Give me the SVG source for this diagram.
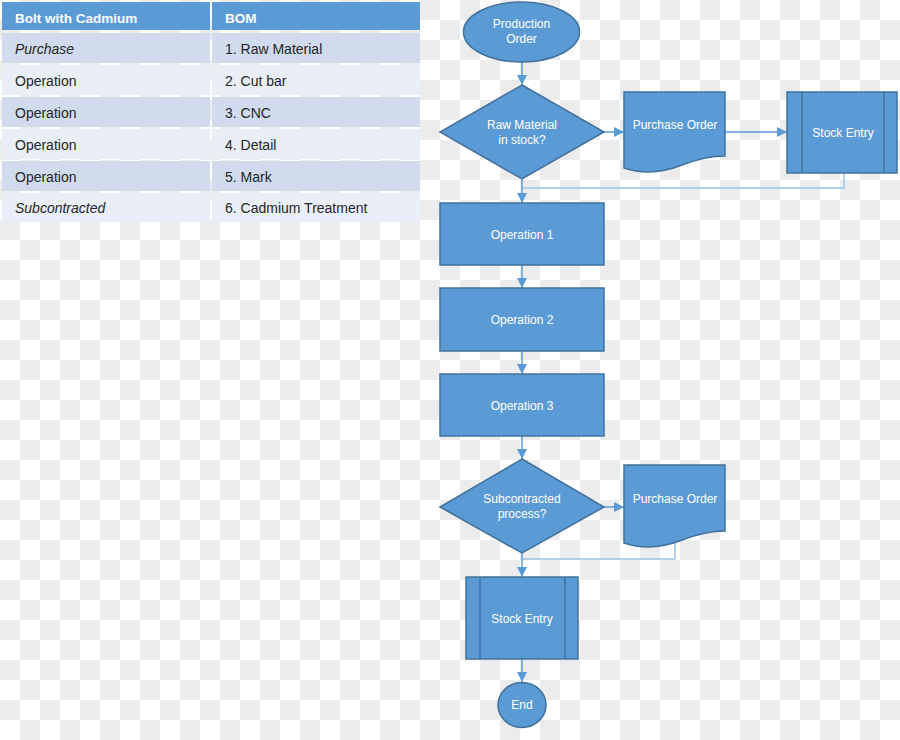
<svg xmlns="http://www.w3.org/2000/svg" width="900" height="740" viewBox="0 0 900 740">
<defs>
<pattern id="checker" width="40" height="40" patternUnits="userSpaceOnUse">
<rect width="40" height="40" fill="#ffffff"/>
<rect x="20" y="0" width="20" height="20" fill="#ececec"/>
<rect x="0" y="20" width="20" height="20" fill="#ececec"/>
</pattern>
<marker id="arrow" markerWidth="10" markerHeight="10" refX="10" refY="5" orient="auto" markerUnits="userSpaceOnUse">
<path d="M0,0 L10,5 L0,10 Z" fill="#5b9bd5"/>
</marker>
<style>
.shape{fill:#5b9bd5;stroke:#41719c;stroke-width:1.5}
.inner{stroke:#41719c;stroke-width:1.5;fill:none}
.lbl{font-family:"Liberation Sans",Arial,sans-serif;font-size:12px;fill:#ffffff;text-anchor:middle}
.conn{stroke:#5b9bd5;stroke-width:1.5;fill:none}
.ret{stroke:#9dc3e6;stroke-width:1.5;fill:none}
.th{fill:#5b9bd5}
.r1{fill:#d0dbee}
.r2{fill:#e9eef7}
.tt{font-family:"Liberation Sans",Arial,sans-serif;font-size:14px;fill:#262626}
.th-t{font-family:"Liberation Sans",Arial,sans-serif;font-size:13.5px;font-weight:bold;fill:#ffffff}
.it{font-style:italic}
</style>
</defs>
<rect width="900" height="740" fill="url(#checker)"/>

<g id="table">
<rect class="th" x="2" y="2" width="208" height="28"/>
<rect class="th" x="212" y="2" width="208" height="28"/>
<text class="th-t" x="15" y="23">Bolt with Cadmium</text>
<text class="th-t" x="225" y="23">BOM</text>
<rect class="r1" x="2" y="33" width="208" height="30"/>
<rect class="r1" x="212" y="33" width="208" height="30"/>
<text class="tt it" x="15" y="54">Purchase</text>
<text class="tt" x="225" y="54">1. Raw Material</text>
<rect class="r2" x="2" y="65" width="208" height="30"/>
<rect class="r2" x="212" y="65" width="208" height="30"/>
<text class="tt" x="15" y="86">Operation</text>
<text class="tt" x="225" y="86">2. Cut bar</text>
<rect class="r1" x="2" y="97" width="208" height="30"/>
<rect class="r1" x="212" y="97" width="208" height="30"/>
<text class="tt" x="15" y="118">Operation</text>
<text class="tt" x="225" y="118">3. CNC</text>
<rect class="r2" x="2" y="129" width="208" height="30"/>
<rect class="r2" x="212" y="129" width="208" height="30"/>
<text class="tt" x="15" y="150">Operation</text>
<text class="tt" x="225" y="150">4. Detail</text>
<rect class="r1" x="2" y="161" width="208" height="30"/>
<rect class="r1" x="212" y="161" width="208" height="30"/>
<text class="tt" x="15" y="182">Operation</text>
<text class="tt" x="225" y="182">5. Mark</text>
<rect class="r2" x="2" y="193" width="208" height="29"/>
<rect class="r2" x="212" y="193" width="208" height="29"/>
<text class="tt it" x="15" y="213">Subcontracted</text>
<text class="tt" x="225" y="213">6. Cadmium Treatment</text>
</g>

<g id="connectors">
<line class="conn" x1="522" y1="62" x2="522" y2="85" marker-end="url(#arrow)"/>
<line class="conn" x1="604" y1="132" x2="624" y2="132" marker-end="url(#arrow)"/>
<line class="conn" x1="725" y1="132" x2="787" y2="132" marker-end="url(#arrow)"/>
<polyline class="ret" points="844,173 844,188 522,188"/>
<line class="conn" x1="522" y1="179" x2="522" y2="203" marker-end="url(#arrow)"/>
<line class="conn" x1="522" y1="265" x2="522" y2="288" marker-end="url(#arrow)"/>
<line class="conn" x1="522" y1="351" x2="522" y2="374" marker-end="url(#arrow)"/>
<line class="conn" x1="522" y1="436" x2="522" y2="459" marker-end="url(#arrow)"/>
<line class="conn" x1="604" y1="507" x2="624" y2="507" marker-end="url(#arrow)"/>
<polyline class="ret" points="675,543 675,559 522,559"/>
<line class="conn" x1="522" y1="553" x2="522" y2="577" marker-end="url(#arrow)"/>
<line class="conn" x1="522" y1="659" x2="522" y2="682" marker-end="url(#arrow)"/>
</g>

<g id="production-order">
<ellipse class="shape" cx="521.5" cy="32" rx="58" ry="30"/>
<text class="lbl" x="521.5" y="28">Production</text>
<text class="lbl" x="521.5" y="43">Order</text>
</g>

<g id="raw-material-decision">
<polygon class="shape" points="522,85 604,132 522,179 440,132"/>
<text class="lbl" x="522" y="129">Raw Material</text>
<text class="lbl" x="522" y="144">in stock?</text>
</g>

<g id="purchase-order-1">
<path class="shape" d="M624,92 H725 V156 C708,156 695,160 682,165 C662,173 642,174 624,168 Z"/>
<text class="lbl" x="675" y="129">Purchase Order</text>
</g>

<g id="stock-entry-1">
<rect class="shape" x="787" y="92" width="110" height="81"/>
<line class="inner" x1="802" y1="92" x2="802" y2="173"/>
<line class="inner" x1="884" y1="92" x2="884" y2="173"/>
<text class="lbl" x="843" y="137">Stock Entry</text>
</g>

<g id="operation-1">
<rect class="shape" x="440" y="203" width="164" height="62"/>
<text class="lbl" x="522" y="239">Operation 1</text>
</g>

<g id="operation-2">
<rect class="shape" x="440" y="288" width="164" height="63"/>
<text class="lbl" x="522" y="324">Operation 2</text>
</g>

<g id="operation-3">
<rect class="shape" x="440" y="374" width="164" height="62"/>
<text class="lbl" x="522" y="410">Operation 3</text>
</g>

<g id="subcontracted-decision">
<polygon class="shape" points="522,459 604,507 522,553 440,507"/>
<text class="lbl" x="522" y="503">Subcontracted</text>
<text class="lbl" x="522" y="518">process?</text>
</g>

<g id="purchase-order-2">
<path class="shape" d="M624,465 H725 V531 C708,531 695,535 682,540 C662,548 642,549 624,543 Z"/>
<text class="lbl" x="675" y="503">Purchase Order</text>
</g>

<g id="stock-entry-2">
<rect class="shape" x="466" y="577" width="112" height="82"/>
<line class="inner" x1="480" y1="577" x2="480" y2="659"/>
<line class="inner" x1="565" y1="577" x2="565" y2="659"/>
<text class="lbl" x="522" y="623">Stock Entry</text>
</g>

<g id="end">
<ellipse class="shape" cx="522" cy="705" rx="24" ry="22.5"/>
<text class="lbl" x="522" y="709">End</text>
</g>
</svg>
